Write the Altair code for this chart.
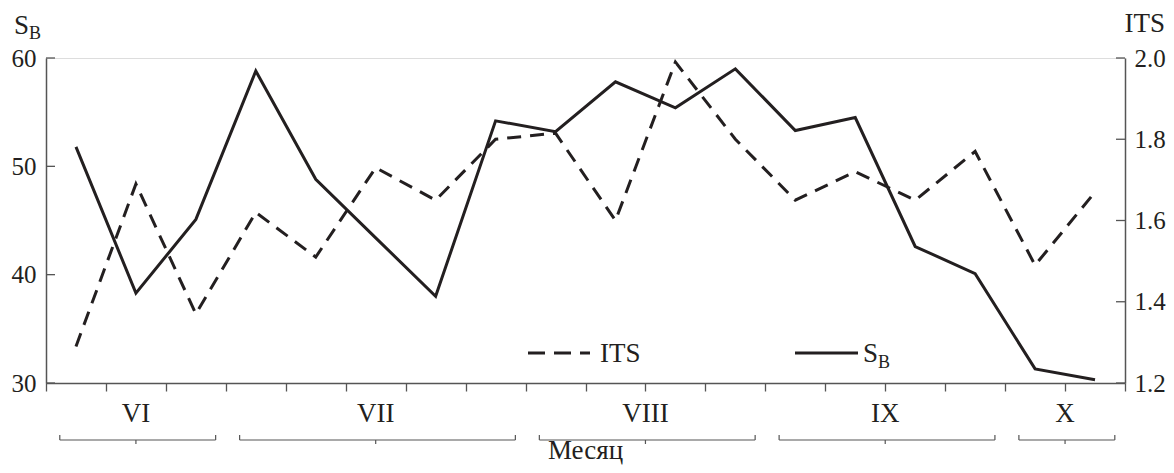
import altair as alt
import pandas as pd

# ---- data ----
obs = list(range(1, 19))
sb = [51.8, 38.3, 45.1, 58.8, 48.8, 43.4, 38.0, 54.2, 53.2, 57.8, 55.4, 59.0,
      53.3, 54.5, 42.6, 40.1, 31.3, 30.3]
its = [1.29, 1.69, 1.37, 1.62, 1.51, 1.73, 1.65, 1.80, 1.815, 1.60, 1.99, 1.80,
       1.65, 1.72, 1.65, 1.77, 1.49, 1.67]
months = ["VI", "VII", "VIII", "IX", "X"]
month_len = [3, 5, 4, 4, 2]
sb_ticks = [30, 40, 50, 60]
its_ticks = [1.2, 1.4, 1.6, 1.8, 2.0]

W, H = 1079, 325
FONT = "Liberation Serif"
INK = "#231f20"
AX = "#555555"
FS = 25
MFS = 27

df = pd.DataFrame({"pos": [o - 0.5 for o in obs], "sb": sb, "its": its})

starts, ends = [], []
acc = 0
for n in month_len:
    starts.append(acc)
    acc += n
    ends.append(acc)
mdf = pd.DataFrame({
    "month": months,
    "start": starts,
    "end": ends,
    "mid": [(s + e) / 2 for s, e in zip(starts, ends)],
    "bs": [s + 0.23 for s in starts],
    "be": [e - 0.17 for e in ends],
})

xscale = alt.Scale(domain=[0, sum(month_len)], nice=False, zero=False)
xaxis = alt.Axis(values=list(range(sum(month_len) + 1)), labels=False, title=None,
                 tickSize=8, tickColor=AX, domainColor=AX, domainWidth=1.5,
                 tickWidth=1.3, grid=False)
ylscale = alt.Scale(domain=[30, 60], nice=False, zero=False)
yrscale = alt.Scale(domain=[1.2, 2.0], nice=False, zero=False)
ylaxis = alt.Axis(values=sb_ticks, ticks=False, labelPadding=10, title=None, grid=False,
                  domainColor=AX, domainWidth=1.5, labelFont=FONT, labelFontSize=FS,
                  labelColor=INK)
yraxis = alt.Axis(values=its_ticks, ticks=False, labelPadding=9, title=None, grid=False,
                  orient="right", format=".1f", domainColor=AX, domainWidth=1.5,
                  labelFont=FONT, labelFontSize=FS, labelColor=INK)

X = alt.X("pos:Q", scale=xscale, axis=xaxis)

sb_line = alt.Chart(df).mark_line(color=INK, strokeWidth=3).encode(
    x=X, y=alt.Y("sb:Q", scale=ylscale, axis=ylaxis))
sb_tick = alt.Chart(pd.DataFrame({"v": sb_ticks})).mark_rule(color=AX, strokeWidth=1.3).encode(
    y=alt.Y("v:Q", scale=ylscale, axis=ylaxis), x=alt.value(0), x2=alt.value(9))
left = alt.layer(sb_line, sb_tick)

its_line = alt.Chart(df).mark_line(color=INK, strokeWidth=3, strokeDash=[14, 9]).encode(
    x=X, y=alt.Y("its:Q", scale=yrscale, axis=yraxis))
its_tick = alt.Chart(pd.DataFrame({"v": its_ticks})).mark_rule(color=AX, strokeWidth=1.3).encode(
    y=alt.Y("v:Q", scale=yrscale, axis=yraxis), x=alt.value(W - 9), x2=alt.value(W))
right = alt.layer(its_line, its_tick)

base_m = alt.Chart(mdf)
mlabels = base_m.mark_text(font=FONT, fontSize=MFS, color=INK, baseline="middle").encode(
    x=alt.X("mid:Q", scale=xscale, axis=xaxis), y=alt.value(H + 31), text="month:N")
brace_h = base_m.mark_rule(color=AX, strokeWidth=1.2).encode(
    x=alt.X("bs:Q", scale=xscale, axis=xaxis), x2="be:Q", y=alt.value(H + 57))
brace_l = base_m.mark_rule(color=AX, strokeWidth=1.2).encode(
    x=alt.X("bs:Q", scale=xscale, axis=xaxis), y=alt.value(H + 52), y2=alt.value(H + 57))
brace_r = base_m.mark_rule(color=AX, strokeWidth=1.2).encode(
    x=alt.X("be:Q", scale=xscale, axis=xaxis), y=alt.value(H + 52), y2=alt.value(H + 57))
brace_c = base_m.mark_rule(color=AX, strokeWidth=1.2).encode(
    x=alt.X("mid:Q", scale=xscale, axis=xaxis), y=alt.value(H + 57), y2=alt.value(H + 61))

one = pd.DataFrame({"a": [0]})
def txt(s, x, y, size=FS, align="left", baseline="alphabetic"):
    return alt.Chart(one).mark_text(font=FONT, fontSize=size, color=INK, align=align,
                                    baseline=baseline).encode(
        x=alt.value(x), y=alt.value(y), text=alt.value(s))

titles = [
    txt("S", -32, -24, size=27),
    txt("B", -17, -19, size=18),
    txt("ITS", W + 40, -26, size=27, align="right"),
    txt("Месяц", W / 2, H + 76, size=MFS, align="center"),
    # legend
    txt("ITS", 554, 304, size=27),
    txt("S", 817, 304, size=27),
    txt("B", 832, 310, size=18),
]
leg_its = alt.Chart(one).mark_rule(color=INK, strokeWidth=3, strokeDash=[17, 9]).encode(
    x=alt.value(482), x2=alt.value(544), y=alt.value(295))
leg_sb = alt.Chart(one).mark_rule(color=INK, strokeWidth=3).encode(
    x=alt.value(749), x2=alt.value(812), y=alt.value(295))

chart = alt.layer(
    left, right, mlabels, brace_h, brace_l, brace_r, brace_c, leg_its, leg_sb, *titles
).resolve_scale(y="independent").properties(
    width=W, height=H,
    padding={"left": 38, "top": 50, "right": 41, "bottom": 82},
    autosize=alt.AutoSizeParams(type="none"),
).configure_view(stroke=None).configure(background="white")

chart.save("out.html", embed_options={"renderer": "svg", "actions": False})
